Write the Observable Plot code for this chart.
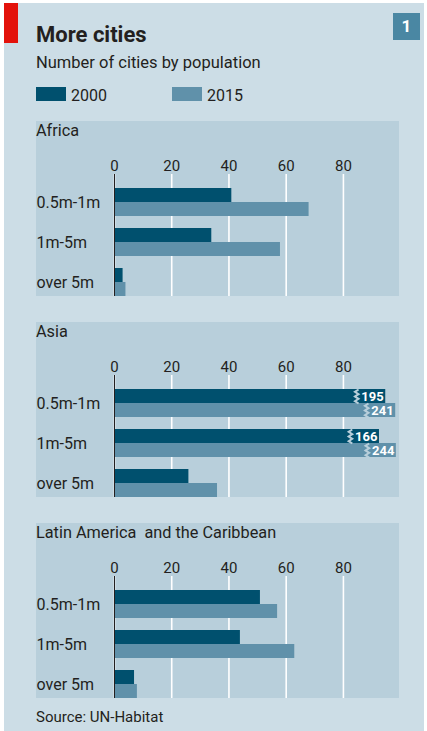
<!DOCTYPE html>
<html>
<head>
<meta charset="utf-8">
<script src="https://cdn.jsdelivr.net/npm/d3@7"></script>
<script src="https://cdn.jsdelivr.net/npm/@observablehq/plot@0.6"></script>
<style>
  body { margin: 0; background: #ffffff; font-family: Roboto, "Noto Sans", sans-serif; color: #231f20; }
  #chart { position: relative; width: 427px; height: 731px; overflow: hidden; }
  .abs { position: absolute; white-space: pre; line-height: 1; }
  .panel { position: absolute; left: 36px; width: 363px; height: 175px; background: #b8cfdb; }
  .panel svg { position: absolute; left: 0; top: 0; background: transparent; overflow: visible; }
</style>
</head>
<body>
<div id="chart"></div>
<script>
// ---------- data ----------
const categories = ["0.5m-1m", "1m-5m", "over 5m"];
const regions = ["Africa", "Asia", "Latin America  and the Caribbean"];
const years = ["2000", "2015"];
const africa2000 = [41, 34, 3];
const africa2015 = [68, 58, 4];
const asia2000 = [195, 166, 26];
const asia2015 = [241, 244, 36];
const latam2000 = [51, 44, 7];
const latam2015 = [57, 63, 8];
const xTicks = [0, 20, 40, 60, 80];
const title = "More cities";
const subtitle = "Number of cities by population";
const source = "Source: UN-Habitat";
const chartNumber = "1";

// ---------- styles ----------
const C = {
  outer: "#ccdde6", panel: "#b8cfdb", dark: "#00506e", light: "#6091aa",
  red: "#e3120b", badge: "#4a87a3", text: "#231f20"
};
const xMax = 99.6;              // visible end of the axis
// axis-break compression for values far beyond the axis
const overflow = d3.scaleLinear([166, 244], [92.6, 98.5]);
const shown = v => v > xMax ? overflow(v) : v;

const series = {
  "Africa": [africa2000, africa2015],
  "Asia": [asia2000, asia2015],
  "Latin America  and the Caribbean": [latam2000, latam2015]
};
const rows = regions.flatMap(r => categories.flatMap((c, i) =>
  years.map((y, k) => ({region: r, cat: c, year: y, value: series[r][k][i]}))));

const chart = document.getElementById("chart");
function add(html, style, cls = "abs") {
  const d = document.createElement("div");
  d.className = cls;
  d.style.cssText = style;
  d.textContent = html;
  chart.appendChild(d);
  return d;
}

// background, flag, badge
add("", `left:4px;top:3px;width:420px;height:728px;background:${C.outer};`);
add("", `left:4px;top:3px;width:14px;height:40px;background:${C.red};`);
add(chartNumber, `left:393px;top:13px;width:27px;height:27px;background:${C.badge};color:#fff;font-weight:bold;font-size:17px;line-height:27px;text-align:center;`);
add(title, `left:36px;top:24px;font-size:22px;font-weight:bold;`);
add(subtitle, `left:36px;top:55px;font-size:16.5px;`);
// legend
add("", `left:36px;top:87px;width:30px;height:14px;background:${C.dark};`);
add(years[0], `left:71px;top:87.5px;font-size:16px;`);
add("", `left:172px;top:87px;width:30px;height:14px;background:${C.light};`);
add(years[1], `left:207px;top:87.5px;font-size:16px;`);
add(source, `left:36px;top:710px;font-size:15px;`);

// symbol for the axis break
const zigzag = {
  draw(ctx) {
    const h = 7, w = 1.8;
    ctx.moveTo(w, -h);
    const n = 6;
    for (let i = 1; i <= n; i++) ctx.lineTo(i % 2 ? -w : w, -h + (2 * h * i) / n);
  }
};

function breakMarks(data, dy) {
  return [
    Plot.dot(data, {x: d => shown(d.value), y: "cat", dy, dx: -29, symbol: zigzag,
      fill: "none", stroke: C.panel, strokeWidth: 2}),
    Plot.text(data, {x: d => shown(d.value), y: "cat", dy, dx: -2, text: d => String(d.value),
      textAnchor: "end", fill: "white", fontWeight: "bold", fontSize: 13})
  ];
}

const panelTops = [121, 322, 523];
regions.forEach((region, ri) => {
  const panel = document.createElement("div");
  panel.className = "panel";
  panel.style.top = panelTops[ri] + "px";
  chart.appendChild(panel);
  const t = document.createElement("div");
  t.className = "abs";
  t.style.cssText = "left:0;top:1.5px;font-size:16.3px;";
  t.textContent = region;
  panel.appendChild(t);

  const data = rows.filter(d => d.region === region);
  const d0 = data.filter(d => d.year === years[0]);
  const d1 = data.filter(d => d.year === years[1]);

  const svg = Plot.plot({
    width: 363, height: 175,
    marginTop: 53, marginLeft: 78, marginRight: 0, marginBottom: 0,
    style: {background: "transparent", fontFamily: "Roboto, sans-serif", color: C.text},
    x: {domain: [0, xMax]},
    y: {type: "band", domain: categories, range: [67, 175], paddingInner: 0.3, paddingOuter: 0},
    marks: [
      Plot.gridX(xTicks, {stroke: "white", strokeOpacity: 1, strokeWidth: 1.6}),
      Plot.barX(d0, {x: d => shown(d.value), y: "cat", fill: C.dark, insetBottom: 14}),
      Plot.barX(d1, {x: d => shown(d.value), y: "cat", fill: C.light, insetTop: 14}),
      ...breakMarks(d0.filter(d => d.value > xMax), -7),
      ...breakMarks(d1.filter(d => d.value > xMax), 7),
      Plot.ruleX([0], {stroke: "#231f20", strokeWidth: 1}),
      Plot.axisX(xTicks, {anchor: "top", tickSize: 0, tickPadding: 4, fontSize: 15, fill: C.text}),
      Plot.axisY({tickSize: 0, tickPadding: 78, textAnchor: "start", fontSize: 16, fill: C.text, label: null})
    ]
  });
  panel.appendChild(svg);
});
</script>
</body>
</html>
